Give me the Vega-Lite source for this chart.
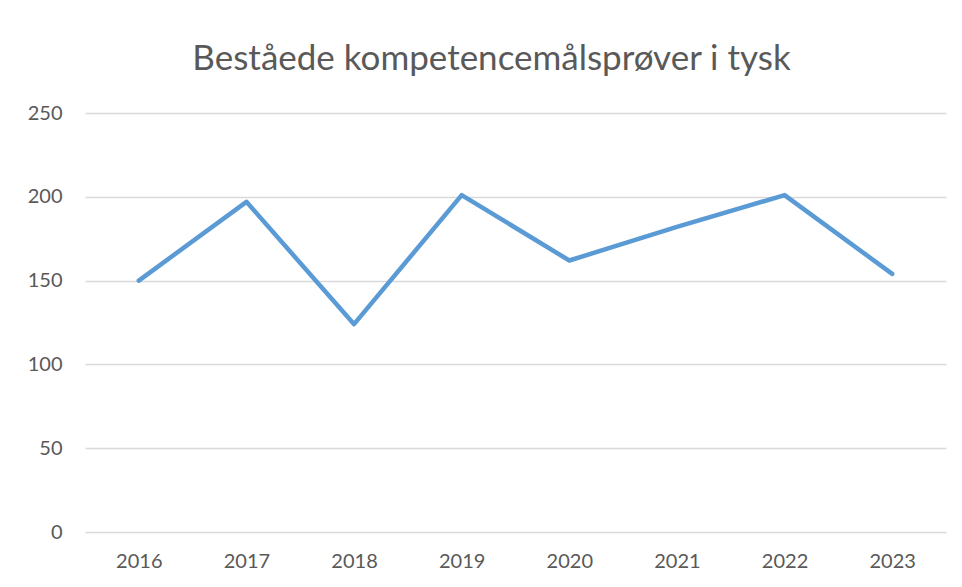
{
  "$schema": "https://vega.github.io/schema/vega-lite/v6.json",
  "autosize": "none",
  "width": 861,
  "height": 419,
  "padding": {"left": 85, "top": 113, "right": 16, "bottom": 55},
  "background": "white",
  "config": {
    "view": {"stroke": null},
    "font": "Lato"
  },
  "title": {
    "text": "Beståede kompetencemålsprøver i tysk",
    "fontSize": 35,
    "fontWeight": "normal",
    "font": "Lato",
    "color": "#595959",
    "anchor": "middle",
    "dx": -24,
    "offset": 26
  },
  "data": {
    "values": [
      {"year": "2016", "value": 150},
      {"year": "2017", "value": 197},
      {"year": "2018", "value": 124},
      {"year": "2019", "value": 201},
      {"year": "2020", "value": 162},
      {"year": "2021", "value": 182},
      {"year": "2022", "value": 201},
      {"year": "2023", "value": 154}
    ]
  },
  "mark": {"type": "line", "color": "#5B9BD5", "strokeWidth": 4.5, "strokeCap": "round", "strokeJoin": "round"},
  "encoding": {
    "x": {
      "field": "year",
      "type": "ordinal",
      "scale": {"type": "point", "padding": 0.5},
      "axis": {
        "title": null,
        "labelAngle": 0,
        "domain": false,
        "ticks": false,
        "labelFontSize": 20,
        "labelColor": "#595959",
        "labelPadding": 19
      }
    },
    "y": {
      "field": "value",
      "type": "quantitative",
      "scale": {"domain": [0, 250], "nice": false},
      "axis": {
        "title": null,
        "values": [0, 50, 100, 150, 200, 250],
        "domain": false,
        "ticks": false,
        "labelFontSize": 20,
        "labelColor": "#595959",
        "labelPadding": 23,
        "gridColor": "#D9D9D9",
        "gridWidth": 1.3
      }
    }
  }
}
